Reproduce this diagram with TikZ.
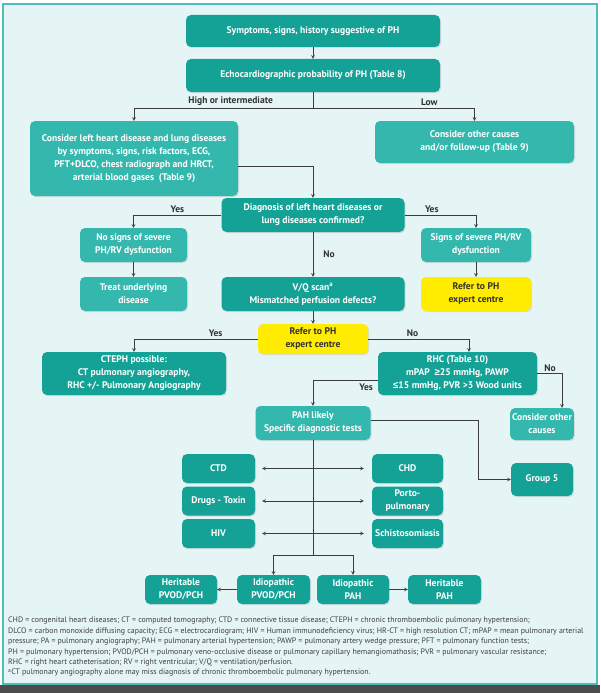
\documentclass[tikz,border=0pt]{standalone}
\usepackage{fontspec}
\setmainfont{PT Sans}
\newfontfamily\symfont{Liberation Sans}
\usetikzlibrary{shapes.geometric, arrows, shadows}
\definecolor{tealdark}{RGB}{20,162,150}
\definecolor{teallight}{RGB}{52,184,174}
\definecolor{referyellow}{RGB}{255,236,0}
\definecolor{panel}{RGB}{229,244,245}
\definecolor{frameline}{RGB}{80,190,182}
\definecolor{linegray}{RGB}{60,60,60}
\tikzstyle{process} = [rectangle, rounded corners=5pt, align=center, draw=none, fill=tealdark, text=white, inner sep=2pt, font=\bfseries\fontsize{9.6}{13}\selectfont, drop shadow={shadow xshift=1pt, shadow yshift=-1.2pt, opacity=0.2}]
\tikzstyle{soft} = [process, fill=teallight]
\tikzstyle{refer} = [process, fill=referyellow, text=black!80]
\tikzstyle{arrow} = [draw=linegray, line width=0.6pt, ->, >=stealth]
\tikzstyle{both} = [arrow, <->, shorten <=7pt, shorten >=8pt]
\tikzstyle{answer} = [text=black!80, font=\bfseries\fontsize{9.5}{10}\selectfont, inner sep=2pt]
\newcommand{\gtsym}{{\symfont\bfseries ≥}}
\newcommand{\ltsym}{{\symfont\bfseries ≤}}

\begin{document}
\begin{tikzpicture}[x=1pt, y=1pt, node distance=40pt]
		\useasboundingbox (0,0) rectangle (600,-693);
		\fill[white] (0,0) rectangle (600,-693);
		\filldraw[fill=panel, draw=frameline, line width=1.5pt] (3,-4) rectangle (597,-684);
		\fill[black!70] (0,-685) rectangle (600,-693);
		% upper part
		\node (symptoms) [process, minimum width=254pt, minimum height=32pt] at (313,-31) {Symptoms, signs, history suggestive of PH};
		\node (echo) [process, minimum width=254pt, minimum height=33pt, below of=symptoms, yshift=-4.5pt] {Echocardiographic probability of PH (Table 8)};
		\node (leftheart) [soft, minimum width=208pt, minimum height=75pt, below of=echo, xshift=-179pt, yshift=-43pt] {Consider left heart disease and lung diseases\\by symptoms, signs, risk factors, ECG,\\PFT+DLCO, chest radiograph and HRCT,\\arterial blood gases~~(Table 9)};
		\node (othercauses) [soft, minimum width=199pt, minimum height=42pt, below of=echo, xshift=161.5pt, yshift=-26.5pt] {Consider other causes\\and/or follow-up (Table 9)};
		\node (diagnosis) [process, minimum width=183pt, minimum height=34pt, below of=echo, yshift=-99.5pt] {Diagnosis of left heart diseases or\\lung diseases confirmed?};
		\node (nosevere) [soft, minimum width=107pt, minimum height=34pt, below of=diagnosis, xshift=-179.5pt, yshift=10pt] {No signs of severe\\PH/RV dysfunction};
		\node (severe) [soft, minimum width=110pt, minimum height=34pt, below of=diagnosis, xshift=163pt, yshift=10pt] {Signs of severe PH/RV\\dysfunction};
		\node (treat) [soft, minimum width=107pt, minimum height=34pt, below of=nosevere, yshift=-9pt] {Treat underlying\\disease};
		\node (referA) [refer, minimum width=110pt, minimum height=34pt, below of=severe, yshift=-9pt] {Refer to PH\\expert centre};
		\node (vqscan) [process, minimum width=183pt, minimum height=34pt, below of=diagnosis, yshift=-39pt] {V/Q scan\textsuperscript{a}\\Mismatched perfusion defects?};
		% middle part
		\node (referB) [refer, minimum width=110pt, minimum height=30pt, below of=vqscan, yshift=-5pt] {Refer to PH\\expert centre};
		\node (cteph) [process, minimum width=184pt, minimum height=43pt, below of=referB, xshift=-179pt, yshift=5.5pt] {CTEPH possible:\\CT pulmonary angiography,\\RHC +/- Pulmonary Angiography};
		\node (rhc) [process, minimum width=159pt, minimum height=43pt, below of=referB, xshift=144.5pt, yshift=5.5pt] {RHC (Table 10)\\mPAP~~\gtsym25 mmHg, PAWP\\\ltsym15 mmHg, PVR >3 Wood units};
		\node (pahlikely) [soft, minimum width=115pt, minimum height=34pt, below of=referB, yshift=-44pt] {PAH likely\\Specific diagnostic tests};
		\node (otherB) [soft, minimum width=62pt, minimum height=32pt, right of=pahlikely, xshift=189pt, yshift=-1pt] {Consider other\\causes};
		\node (groupfive) [process, minimum width=62pt, minimum height=33pt, below of=otherB, yshift=-15.5pt] {Group 5};
		% lower part
		\node (ctd) [process, minimum width=73pt, minimum height=29pt, below of=pahlikely, xshift=-94.5pt, yshift=-5.5pt] {CTD};
		\node (drugs) [process, minimum width=73pt, minimum height=29pt, below of=ctd, yshift=7.5pt] {Drugs - Toxin};
		\node (hiv) [process, minimum width=73pt, minimum height=29pt, below of=drugs, yshift=7.5pt] {HIV};
		\node (chd) [process, minimum width=71pt, minimum height=29pt, right of=ctd, xshift=149pt] {CHD};
		\node (porto) [process, minimum width=71pt, minimum height=29pt, right of=drugs, xshift=149pt] {Porto-\\pulmonary};
		\node (schisto) [process, minimum width=71pt, minimum height=29pt, right of=hiv, xshift=149pt] {Schistosomiasis};
		\node (idpvod) [process, minimum width=73pt, minimum height=29pt, below of=hiv, xshift=55pt, yshift=-16pt] {Idiopathic\\PVOD/PCH};
		\node (herpvod) [process, minimum width=72pt, minimum height=29pt, left of=idpvod, xshift=-52.5pt] {Heritable\\PVOD/PCH};
		\node (idpah) [process, minimum width=72pt, minimum height=29pt, right of=idpvod, xshift=39.5pt] {Idiopathic\\PAH};
		\node (herpah) [process, minimum width=73pt, minimum height=29pt, right of=idpah, xshift=51.5pt] {Heritable\\PAH};
		% footnote
		\node (notes) [anchor=north west, align=left, inner sep=0pt, text=black!75, font=\fontsize{7.9}{10.4}\selectfont] at (8,-617) {CHD = congenital heart diseases; CT = computed tomography; CTD = connective tissue disease; CTEPH = chronic thromboembolic pulmonary hypertension;\\DLCO = carbon monoxide diffusing capacity; ECG = electrocardiogram; HIV = Human immunodeficiency virus; HR-CT = high resolution CT; mPAP = mean pulmonary arterial\\pressure; PA = pulmonary angiography; PAH = pulmonary arterial hypertension; PAWP = pulmonary artery wedge pressure; PFT = pulmonary function tests;\\PH = pulmonary hypertension; PVOD/PCH = pulmonary veno-occlusive disease or pulmonary capillary hemangiomathosis; PVR = pulmonary vascular resistance;\\RHC = right heart catheterisation; RV = right ventricular; V/Q = ventilation/perfusion.\\\textsuperscript{a}CT pulmonary angiography alone may miss diagnosis of chronic thromboembolic pulmonary hypertension.};
		% connectors
		\draw [arrow] (symptoms) -- (echo);
		\draw [arrow] (echo.south) -- ++(0,-16) -| node[answer, above, pos=0.23] {High or intermediate} (leftheart.north);
		\draw [arrow] (echo.south) -- ++(0,-16) -| node[answer, above, pos=0.36] {Low} (othercauses.north);
		\draw [arrow] ([yshift=-7.5pt]leftheart.east) -| (diagnosis.north);
		\draw [arrow] (diagnosis.west) -| node[answer, above, pos=0.25] {Yes} (nosevere.north);
		\draw [arrow] (diagnosis.east) -| node[answer, above, pos=0.19] {Yes} (severe.north);
		\draw [arrow] (nosevere) -- (treat);
		\draw [arrow] (severe) -- (referA);
		\draw [arrow] (diagnosis) -- node[answer, right, xshift=8pt] {No} (vqscan);
		\draw [arrow] (vqscan) -- (referB);
		\draw [arrow] (referB.west) -| node[answer, above, pos=0.17] {Yes} (cteph.north);
		\draw [arrow] (referB.east) -| node[answer, above, pos=0.22] {No} ([xshift=11.5pt]rhc.north);
		\draw [arrow] ([yshift=-6.5pt]rhc.west) -| node[answer, pos=0.02, anchor=north east, yshift=-2pt] {Yes} (pahlikely.north);
		\draw [arrow] (rhc.east) -| node[answer, above, pos=0.26] {No} ([xshift=20pt]otherB.north);
		\draw [arrow] ([yshift=3pt]pahlikely.east) -- ++(107.5,0) |- (groupfive.west);
		\draw [both] (ctd) -- (chd);
		\draw [both] (drugs) -- (porto);
		\draw [both] (hiv) -- (schisto);
		\draw [draw=linegray, line width=0.6pt] (pahlikely.south) -- ++(0,-115) coordinate (split);
		\draw [arrow] (split) -| (idpvod.north);
		\draw [arrow] (split) -| (idpah.north);
		\draw [arrow] (idpvod) -- (herpvod);
		\draw [arrow] (idpah) -- (herpah);
	\end{tikzpicture}
\end{document}
